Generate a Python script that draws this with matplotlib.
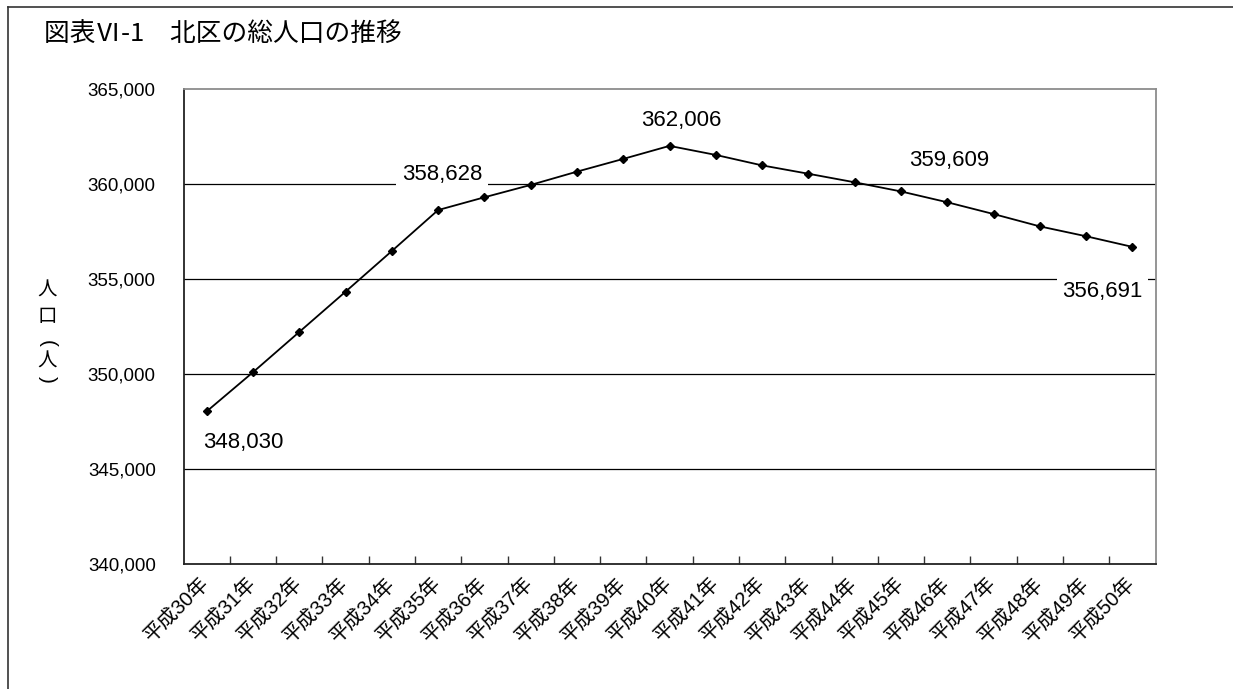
import matplotlib
matplotlib.use("Agg")
import matplotlib.pyplot as plt
from matplotlib.lines import Line2D
from matplotlib.ticker import FuncFormatter, MultipleLocator

plt.rcParams["font.family"] = ["Liberation Sans", "Noto Sans CJK JP", "DejaVu Sans"]

# data
years = [f"平成{y}年" for y in range(30, 51)]
population = [348030, 350090, 352210, 354330, 356470, 358628, 359300, 359950,
              360650, 361320, 362006, 361530, 360980, 360540, 360090, 359609,
              359040, 358420, 357770, 357250, 356691]
labelled = [0, 5, 10, 15, 20]
label_offsets = [(37, -31), (4, 36), (12, 25), (48, 31), (-30, -45)]
label_boxed = [False, True, False, False, True]

TITLE = "図表Ⅵ-1　北区の総人口の推移"
CJK = ["Noto Sans CJK JP", "DejaVu Sans"]

W, H = 1233, 689
fig = plt.figure(figsize=(W / 100, H / 100), dpi=100)
ax = fig.add_axes([183.5 / W, 1 - 564 / H, (1155.5 - 183.5) / W, (564 - 89) / H])

x = list(range(len(years)))
ax.plot(x, population, color="black", lw=1.3, marker="D", ms=4.5, zorder=3)

ax.set_xlim(-0.5, len(years) - 0.5)
ax.set_ylim(340000, 365000)
ax.yaxis.set_major_locator(MultipleLocator(5000))
ax.yaxis.set_major_formatter(FuncFormatter(lambda v, p: f"{int(v):,}"))
ax.tick_params(axis="y", length=0, pad=20, labelsize=13.5)

for yv in range(345000, 365000, 5000):
    ax.axhline(yv, color="black", lw=0.9, zorder=1)

ax.set_xticks(x)
ax.set_xticklabels(years, rotation=45, ha="right", va="center",
                   rotation_mode="anchor", fontsize=14.5)
ax.tick_params(axis="x", which="major", length=0, pad=12)
ax.set_xticks([i - 0.5 for i in range(1, len(years))], minor=True)
ax.tick_params(axis="x", which="minor", direction="in", length=6, width=1, color="#333333")

for side in ["left", "bottom"]:
    ax.spines[side].set_color("#222222")
    ax.spines[side].set_linewidth(1.3)
for side in ["top", "right"]:
    ax.spines[side].set_color("#8c8c8c")
    ax.spines[side].set_linewidth(1.3)

for i, off, boxed in zip(labelled, label_offsets, label_boxed):
    bbox = dict(boxstyle="square,pad=0.25", fc="white", ec="none") if boxed else None
    ax.annotate(f"{population[i]:,}", (i, population[i]), xytext=off,
                textcoords="offset pixels", ha="center", va="center",
                fontsize=16, bbox=bbox, zorder=4)

fig.text(44 / W, 1 - 35 / H, TITLE, family=CJK, fontsize=18.5, ha="left", va="center")

# vertical y-axis label, written top to bottom; brackets turned sideways
yl_x = 47 / W
fig.text(yl_x, 1 - 290 / H, "人", family=CJK, fontsize=14, ha="center", va="center")
fig.text(yl_x, 1 - 317 / H, "口", family=CJK, fontsize=14, ha="center", va="center")
fig.text(yl_x, 1 - 344 / H, "(", fontsize=15, rotation=270, ha="center", va="center")
fig.text(yl_x, 1 - 361 / H, "人", family=CJK, fontsize=14, ha="center", va="center")
fig.text(yl_x, 1 - 379 / H, ")", fontsize=15, rotation=270, ha="center", va="center")

# outer frame of the figure
fig.add_artist(Line2D([8 / W, 8 / W], [0, 1 - 7 / H], color="#333333", lw=1.2,
                      transform=fig.transFigure))
fig.add_artist(Line2D([8 / W, 1], [1 - 7 / H, 1 - 7 / H], color="#333333", lw=1.2,
                      transform=fig.transFigure))

fig.savefig("out.png", dpi=100)
